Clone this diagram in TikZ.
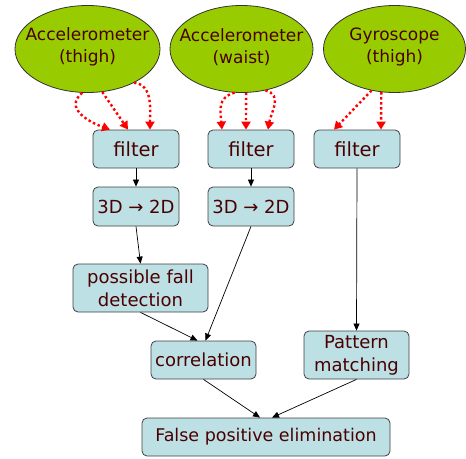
\documentclass[tikz,border=0pt]{standalone}
\usepackage{fontspec}
\setmainfont{DejaVu Sans}
\usetikzlibrary{arrows.meta,shapes.geometric}
\definecolor{txt}{HTML}{4A0000}
\definecolor{sensorgreen}{HTML}{99CC00}
\definecolor{boxfill}{HTML}{BDE0E5}
\tikzset{
  sensorbox/.style={ellipse, draw=black!80, line width=0.8pt, fill=sensorgreen, inner sep=0pt},
  sensortext/.style={text=txt, align=center, font=\fontsize{17}{22}\selectfont, inner sep=0pt, yshift=2pt},
  proc/.style={rectangle, rounded corners=5pt, draw=black!75, line width=0.8pt, fill=boxfill,
    inner sep=0pt, text=txt, align=center, font=\fontsize{18}{23}\selectfont},
  flow/.style={-{Triangle[length=7pt,width=6pt]}, line width=0.7pt, black},
  redarrow/.style={-{Triangle[length=8pt,width=9pt]}, line width=2.4pt, red,
    dash pattern=on 2.4pt off 2.6pt, line cap=butt}
}
\begin{document}
\begin{tikzpicture}[x=1pt,y=-1pt]
\useasboundingbox (0,0) rectangle (466,458);
% sensors
\node[sensorbox, minimum width=145pt, minimum height=87pt,
  label={[sensortext]center:Accelerometer\\(thigh)}] (e1) at (87.5,49) {};
\node[sensorbox, minimum width=143pt, minimum height=87pt,
  label={[sensortext]center:Accelerometer\\(waist)}] (e2) at (241.5,49) {};
\node[sensorbox, minimum width=142pt, minimum height=87pt,
  label={[sensortext]center:Gyroscope\\(thigh)}] (e3) at (394.5,49) {};
% filters
\node[proc, minimum width=86pt, minimum height=38pt, font=\fontsize{19.5}{23}\selectfont] (f1) at (136,149) {filter};
\node[proc, minimum width=86pt, minimum height=38pt, font=\fontsize{19.5}{23}\selectfont] (f2) at (251,149) {filter};
\node[proc, minimum width=86pt, minimum height=38pt, font=\fontsize{19.5}{23}\selectfont] (f3) at (357,149) {filter};
% projections
\node[proc, minimum width=86pt, minimum height=39pt] (t1) at (136,206.5) {3D → 2D};
\node[proc, minimum width=86pt, minimum height=39pt] (t2) at (251,206.5) {3D → 2D};
% later stages
\node[proc, minimum width=135pt, minimum height=48pt] (pfd) at (140.5,288) {possible fall\\detection};
\node[proc, minimum width=105pt, minimum height=38pt] (corr) at (203.5,360) {correlation};
\node[proc, minimum width=105pt, minimum height=48pt] (pat) at (356.5,355) {Pattern\\matching};
\node[proc, minimum width=248pt, minimum height=38pt, font=\fontsize{17.5}{23}\selectfont] (fpe) at (266,437) {False positive elimination};
% red dotted inputs
\draw[redarrow] (e1.263) to[out=220,in=160,looseness=1.3] ([xshift=-26pt]f1.north);
\draw[redarrow] (e1.289) -- ([xshift=-8pt]f1.north);
\draw[redarrow] (e1.324) to[out=-5,in=90] ([xshift=14pt]f1.north);
\draw[redarrow] (e2.261) to[out=195,in=95,looseness=1.2] ([xshift=-29pt]f2.north);
\draw[redarrow] (e2.276) -- ([xshift=-5pt]f2.north);
\draw[redarrow] (e2.300) to[out=-15,in=80,looseness=1.2] ([xshift=17pt]f2.north);
\draw[redarrow] (e3.241) -- ([xshift=-23pt]f3.north);
\draw[redarrow] (e3.253) -- ([xshift=24pt]f3.north);
% black flow
\draw[flow] (f1) -- (t1);
\draw[flow] (f2) -- (t2);
\draw[flow] (t1.south) -- (pfd.north);
\draw[flow] (t2.south) -- ([xshift=2pt]corr.north);
\draw[flow] (pfd.south) -- ([xshift=-6pt]corr.north);
\draw[flow] (f3.south) -- (pat.north);
\draw[flow] (corr.south) -- ([xshift=-6pt]fpe.north);
\draw[flow] (pat.south) -- ([xshift=6pt]fpe.north);
\end{tikzpicture}
\end{document}
